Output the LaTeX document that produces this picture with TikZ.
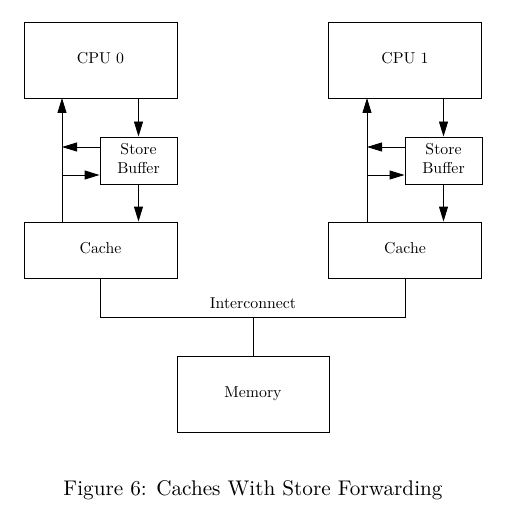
\documentclass[tikz,border=0pt]{standalone}
\usetikzlibrary{arrows.meta}
\newcommand{\bxt}[1]{\scalebox{1.58}{\fontsize{10}{12}\selectfont\begin{tabular}{@{}c@{}}#1\end{tabular}}}
\begin{document}
\begin{tikzpicture}[x=1pt,y=-1pt,
  box/.style={draw, line width=0.9pt, inner sep=0pt, align=center},
  arr/.style={-{Triangle[length=15pt,width=9pt]}, line width=0.9pt},
  wire/.style={line width=0.9pt}]
\useasboundingbox (0,0) rectangle (507,529);
% left CPU
\node[box, minimum width=153pt, minimum height=76pt] (cpu0) at (100.5,60) {\bxt{CPU 0}};
\node[box, minimum width=77pt, minimum height=47pt] (sb0) at (138.5,160.5) {\bxt{Store\\Buffer}};
\node[box, minimum width=153pt, minimum height=56pt] (c0) at (100.5,250) {\bxt{Cache}};
\coordinate (u0) at (62,222);
\coordinate (u0t) at (62,98);
\coordinate (f0) at (62,147);
\coordinate (g0) at (62,175);
\draw[arr] (u0) -- (u0t);
\draw[arr] (cpu0.south -| sb0) -- (sb0.north);
\draw[arr] (sb0.south) -- (c0.north -| sb0);
\draw[arr] (sb0.west |- f0) -- (f0);
\draw[arr] (g0) -- (sb0.west |- g0);
% right CPU
\node[box, minimum width=153pt, minimum height=76pt] (cpu1) at (405,60) {\bxt{CPU 1}};
\node[box, minimum width=77pt, minimum height=47pt] (sb1) at (443.5,160.5) {\bxt{Store\\Buffer}};
\node[box, minimum width=153pt, minimum height=56pt] (c1) at (405,250) {\bxt{Cache}};
\coordinate (u1) at (367,222);
\coordinate (u1t) at (367,98);
\coordinate (f1) at (367,147);
\coordinate (g1) at (367,175);
\draw[arr] (u1) -- (u1t);
\draw[arr] (cpu1.south -| sb1) -- (sb1.north);
\draw[arr] (sb1.south) -- (c1.north -| sb1);
\draw[arr] (sb1.west |- f1) -- (f1);
\draw[arr] (g1) -- (sb1.west |- g1);
% interconnect
\coordinate (bl) at (100.5,317);
\coordinate (br) at (405,317);
\coordinate (bm) at (253,317);
\draw[wire] (c0.south) -- (bl) -- (br) -- (c1.south);
\node[anchor=base, inner sep=0pt] (ic) at (253,308) {\scalebox{1.58}{\fontsize{10}{12}\selectfont Interconnect}};
\node[box, minimum width=152pt, minimum height=76pt] (mem) at (253,394) {\bxt{Memory}};
\draw[wire] (bm) -- (mem.north);
% caption
\node[anchor=base, inner sep=0pt] (cap) at (253,495) {\scalebox{2.12}{\fontsize{10}{12}\selectfont Figure 6: Caches With Store Forwarding}};
\end{tikzpicture}
\end{document}
